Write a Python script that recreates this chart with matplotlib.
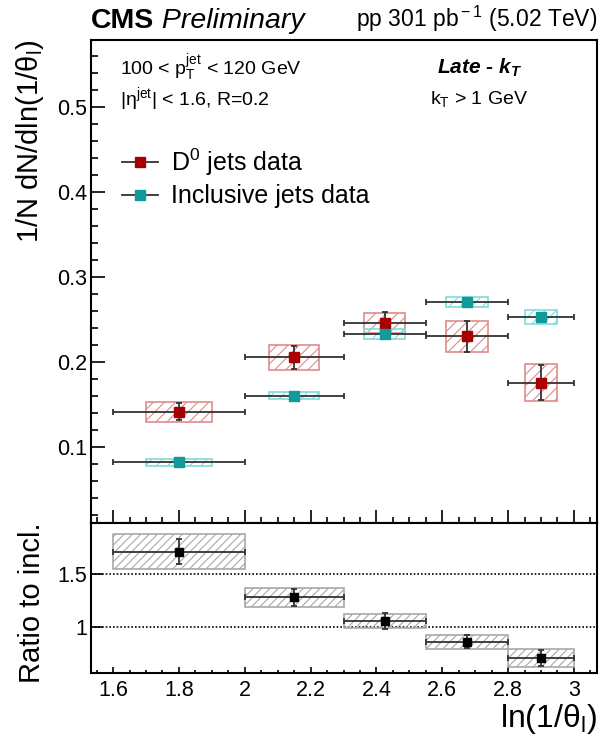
import matplotlib
matplotlib.use('Agg')
import matplotlib.pyplot as plt
from matplotlib.patches import Rectangle
from matplotlib.lines import Line2D
from matplotlib.ticker import MultipleLocator, FuncFormatter, FixedLocator, NullLocator

plt.rcParams['font.family'] = ['Liberation Sans', 'DejaVu Sans']
plt.rcParams['mathtext.fontset'] = 'custom'
plt.rcParams['mathtext.rm'] = 'Liberation Sans'
plt.rcParams['mathtext.it'] = 'Liberation Sans:italic'
plt.rcParams['mathtext.bf'] = 'Liberation Sans:bold'
plt.rcParams['mathtext.bfit'] = 'Liberation Sans:bold:italic'
plt.rcParams['hatch.linewidth'] = 0.8

# ---------------- data ----------------
bin_lo = [1.6, 2.0, 2.3, 2.55, 2.8]
bin_hi = [2.0, 2.3, 2.55, 2.8, 3.0]
x_center = [1.8, 2.15, 2.425, 2.675, 2.9]

d0_val = [0.141, 0.205, 0.2455, 0.230, 0.1755]
d0_stat = [0.010, 0.014, 0.013, 0.018, 0.021]
d0_syst = [0.012, 0.015, 0.012, 0.018, 0.022]

incl_val = [0.0815, 0.160, 0.233, 0.270, 0.2526]
incl_stat = [0.002, 0.002, 0.002, 0.002, 0.002]
incl_syst = [0.004, 0.004, 0.006, 0.006, 0.0085]

ratio_val = [1.71, 1.28, 1.055, 0.86, 0.71]
ratio_stat = [0.119, 0.082, 0.074, 0.062, 0.074]
ratio_syst = [0.162, 0.091, 0.066, 0.065, 0.085]

series_labels = [r'D$^{0}$ jets data', 'Inclusive jets data']

# ---------------- style ----------------
RED = '#a80000'
RED_BOX = '#e08a8a'
TEAL = '#129a9a'
TEAL_BOX = '#80dcdc'
GREY_BOX = '#a8a8a8'
ERR = '#333333'

fig = plt.figure(figsize=(6.0, 7.4), dpi=100)
L, R = 91 / 600, 597 / 600
ax = fig.add_axes([L, 1 - 523 / 740, R - L, 483 / 740])
ax2 = fig.add_axes([L, 1 - 673 / 740, R - L, 150 / 740], sharex=ax)

xlo = [c - lo for c, lo in zip(x_center, bin_lo)]
xhi = [hi - c for c, hi in zip(x_center, bin_hi)]


def draw_series(a, vals, stat, syst, mcol, bcol, hatch, full_width, ms):
    for c, lo, hi, v, s in zip(x_center, bin_lo, bin_hi, vals, syst):
        if full_width:
            x0, w = lo, hi - lo
        else:
            w = (hi - lo) / 2
            x0 = c - w / 2
        a.add_patch(Rectangle((x0, v - s), w, 2 * s, facecolor='none',
                              edgecolor=bcol, hatch=hatch, lw=1.2, zorder=2))
    a.errorbar(x_center, vals, xerr=[xlo, xhi], yerr=stat, fmt='none',
               ecolor=ERR, elinewidth=1.3, capsize=2, capthick=1.3, zorder=3)
    a.plot(x_center, vals, 's', color=mcol, ms=ms, zorder=4)


draw_series(ax, d0_val, d0_stat, d0_syst, RED, RED_BOX, '///', False, 6.8)
draw_series(ax, incl_val, incl_stat, incl_syst, TEAL, TEAL_BOX, '///', False, 6.8)
draw_series(ax2, ratio_val, ratio_stat, ratio_syst, 'black', GREY_BOX, '////', True, 5.8)

for yv in (1.0, 1.5):
    ax2.axhline(yv, color='black', lw=1.2, ls=(0, (1, 1.2)), zorder=1)

# axes ranges & ticks
ax.set_xlim(1.533, 3.07)
ax.set_ylim(0.01, 0.579)
ax2.set_ylim(0.566, 1.98)

fmt = FuncFormatter(lambda v, p: '%g' % round(v, 3))
ax.yaxis.set_major_locator(MultipleLocator(0.1))
ax.yaxis.set_minor_locator(MultipleLocator(0.02))
ax.yaxis.set_major_formatter(fmt)
ax2.xaxis.set_major_locator(MultipleLocator(0.2))
ax2.xaxis.set_minor_locator(MultipleLocator(0.05))
ax2.xaxis.set_major_formatter(fmt)
ax2.yaxis.set_major_locator(FixedLocator([1.0, 1.5]))
ax2.yaxis.set_minor_locator(NullLocator())
ax2.yaxis.set_major_formatter(fmt)

TICK_FS = 15.5
ax.tick_params(axis='both', which='both', direction='in', top=False, right=False,
               labelsize=TICK_FS, width=1.2)
ax.tick_params(axis='y', which='major', length=10, pad=3)
ax.tick_params(axis='y', which='minor', length=5)
ax.tick_params(axis='x', which='major', length=9.5, labelbottom=False)
ax.tick_params(axis='x', which='minor', length=4)
ax2.tick_params(axis='both', which='both', direction='in', top=False, right=False,
                labelsize=TICK_FS, width=1.2)
ax2.tick_params(axis='y', which='major', length=8.5, pad=3)
ax2.tick_params(axis='x', which='major', length=4.3, pad=5)
ax2.tick_params(axis='x', which='minor', length=2.2)

for a in (ax, ax2):
    for sp in a.spines.values():
        sp.set_linewidth(1.5)

# labels
ax.set_ylabel(r'1/N dN/dln(1/θ$_{\rm l}$)', fontsize=21, loc='top')
ax.yaxis.set_label_coords(-0.088, 1.0)
ax2.set_ylabel('Ratio to incl.', fontsize=21)
ax2.yaxis.set_label_coords(-0.088, 0.47)
ax2.set_xlabel(r'ln(1/θ$_{\rm l}$)', fontsize=23, loc='right')
ax2.xaxis.set_label_coords(1.0, -0.195)

# header
t_cms = ax.text(0.0, 1.012, 'CMS', transform=ax.transAxes, fontsize=20.5,
                fontweight='bold', ha='left', va='bottom')
ax.annotate(' Preliminary', xy=(1, 0), xycoords=t_cms, fontsize=20.5,
            fontstyle='italic', ha='left', va='bottom')
ax.text(1.0, 1.012, r'pp 301 pb$^{\rm -1}$ (5.02 TeV)', transform=ax.transAxes,
        fontsize=16.5, ha='right', va='bottom')

# annotations
ax.text(0.057, 0.942, r'100 < p$_{\rm T}^{\rm jet}$ < 120 GeV', transform=ax.transAxes,
        fontsize=14, ha='left', va='center')
ax.text(0.057, 0.878, r'|η$^{\rm jet}$| < 1.6, R=0.2', transform=ax.transAxes,
        fontsize=14, ha='left', va='center')
ax.text(0.769, 0.942, r'Late - k$_{\mathbfit{T}}$', transform=ax.transAxes,
        fontsize=15, fontweight='bold', fontstyle='italic', ha='center', va='center')
ax.text(0.767, 0.878, r'k$_{\rm T}$ > 1 GeV', transform=ax.transAxes,
        fontsize=14, ha='center', va='center')

# legend
handles = [
    Line2D([], [], color=ERR, lw=1.3, marker='s', ms=6.8, mfc=RED, mec=RED),
    Line2D([], [], color=ERR, lw=1.3, marker='s', ms=6.8, mfc=TEAL, mec=TEAL),
]
ax.legend(handles, series_labels, loc='center left', bbox_to_anchor=(0.061, 0.715),
          frameon=False, fontsize=18, handlelength=1.45, handletextpad=0.5,
          labelspacing=0.25, borderpad=0, borderaxespad=0)

fig.savefig('out.png', dpi=100)
